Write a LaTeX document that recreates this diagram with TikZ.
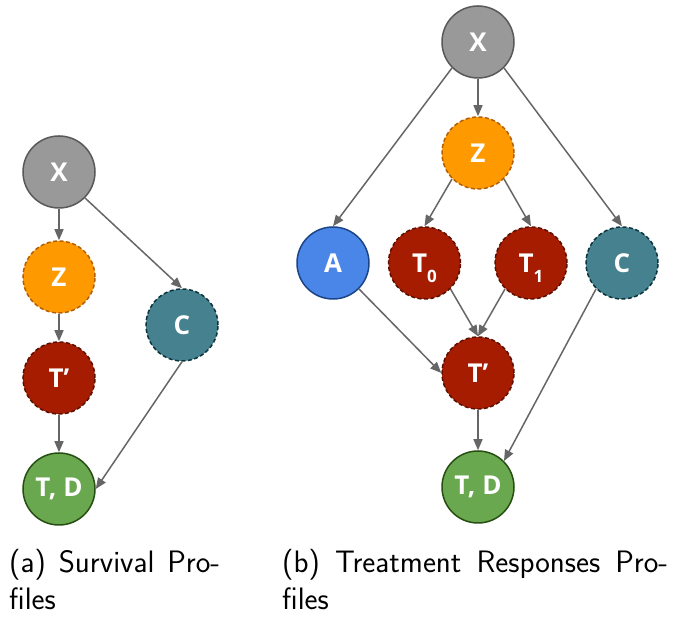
\documentclass[tikz,border=0pt]{standalone}
\usepackage{fontspec}
\newfontfamily\nodefont{Open Sans}
\usetikzlibrary{arrows.meta}
\definecolor{xgray}{HTML}{999999}
\definecolor{xgrayline}{HTML}{595959}
\definecolor{zorange}{HTML}{FF9900}
\definecolor{zorangeline}{HTML}{B45F06}
\definecolor{tred}{HTML}{A61C00}
\definecolor{tredline}{HTML}{5B0F00}
\definecolor{cteal}{HTML}{45818E}
\definecolor{ctealline}{HTML}{0C343D}
\definecolor{ablue}{HTML}{4A86E8}
\definecolor{ablueline}{HTML}{1C4587}
\definecolor{dgreen}{HTML}{6AA84F}
\definecolor{dgreenline}{HTML}{274E13}
\definecolor{edgegray}{HTML}{666666}
\newcommand{\lowsub}[1]{\raisebox{-10pt}[0pt][0pt]{\fontsize{17}{17}\selectfont #1}}
\tikzset{
  vnode/.style={circle, minimum size=72pt, inner sep=0pt, line width=1.5pt,
                text=white, font=\nodefont\bfseries\fontsize{26}{26}\selectfont},
  latent/.style={dash pattern=on 4pt off 2.5pt},
  xnode/.style={vnode, draw=xgrayline, fill=xgray},
  znode/.style={vnode, latent, draw=zorangeline, fill=zorange},
  tnode/.style={vnode, latent, draw=tredline, fill=tred},
  cnode/.style={vnode, latent, draw=ctealline, fill=cteal},
  anode/.style={vnode, draw=ablueline, fill=ablue},
  dnode/.style={vnode, draw=dgreenline, fill=dgreen},
  arr/.style={-{Triangle[length=11pt,width=9pt]}, line width=1.5pt, edgegray},
  capbox/.style={anchor=north west, inner sep=0pt, align=justify,
                 font=\sffamily\fontsize{31}{37}\selectfont},
}

\begin{document}
\begin{tikzpicture}[x=1pt, y=1pt]
  \useasboundingbox (0,0) rectangle (673,617);

  %% (a) survival profiles
  \node[xnode] (xa) at (59, 445) {X};
  \node[znode] (za) at (59, 340) {Z};
  \node[tnode] (tpa) at (59, 239) {T’};
  \node[dnode] (tda) at (59, 128) {T, D};
  \node[cnode] (ca) at (182, 292) {C};

  \draw[arr] (xa) -- (za);
  \draw[arr] (za) -- (tpa);
  \draw[arr] (tpa) -- (tda);
  \draw[arr] (xa.south east) -- (ca.north);
  \draw[arr] (ca.south) -- (tda.east);

  %% (b) treatment response profiles
  \node[xnode] (xb) at (478, 575) {X};
  \node[znode] (zb) at (478, 464) {Z};
  \node[anode] (ab) at (333, 354) {A};
  \node[tnode] (t0b) at (424.5, 354) {T\lowsub{0}};
  \node[tnode] (t1b) at (531, 354) {T\lowsub{1}};
  \node[cnode] (cb) at (622, 354) {C};
  \node[tnode] (tpb) at (478, 244) {T’};
  \node[dnode] (tdb) at (478, 130) {T, D};

  \draw[arr] (xb.south west) -- (ab.north);
  \draw[arr] (xb) -- (zb);
  \draw[arr] (xb.south east) -- (cb.north);
  \draw[arr] (zb.south west) -- (t0b.north);
  \draw[arr] (zb.south east) -- (t1b.north);
  \draw[arr] (ab.south east) -- (tpb.west);
  \draw[arr] (t0b.south east) -- (tpb.north);
  \draw[arr] (t1b.south west) -- (tpb.north);
  \draw[arr] (tpb) -- (tdb);
  \draw[arr] (cb.south west) -- (tdb.north east);

  %% captions
  \node[capbox, text width=211pt] (capa) at (9, 68) {(a) Survival Pro-\linebreak files};
  \node[capbox, text width=386pt] (capb) at (282, 68) {(b) Treatment Responses Pro-\linebreak files};
\end{tikzpicture}
\end{document}
